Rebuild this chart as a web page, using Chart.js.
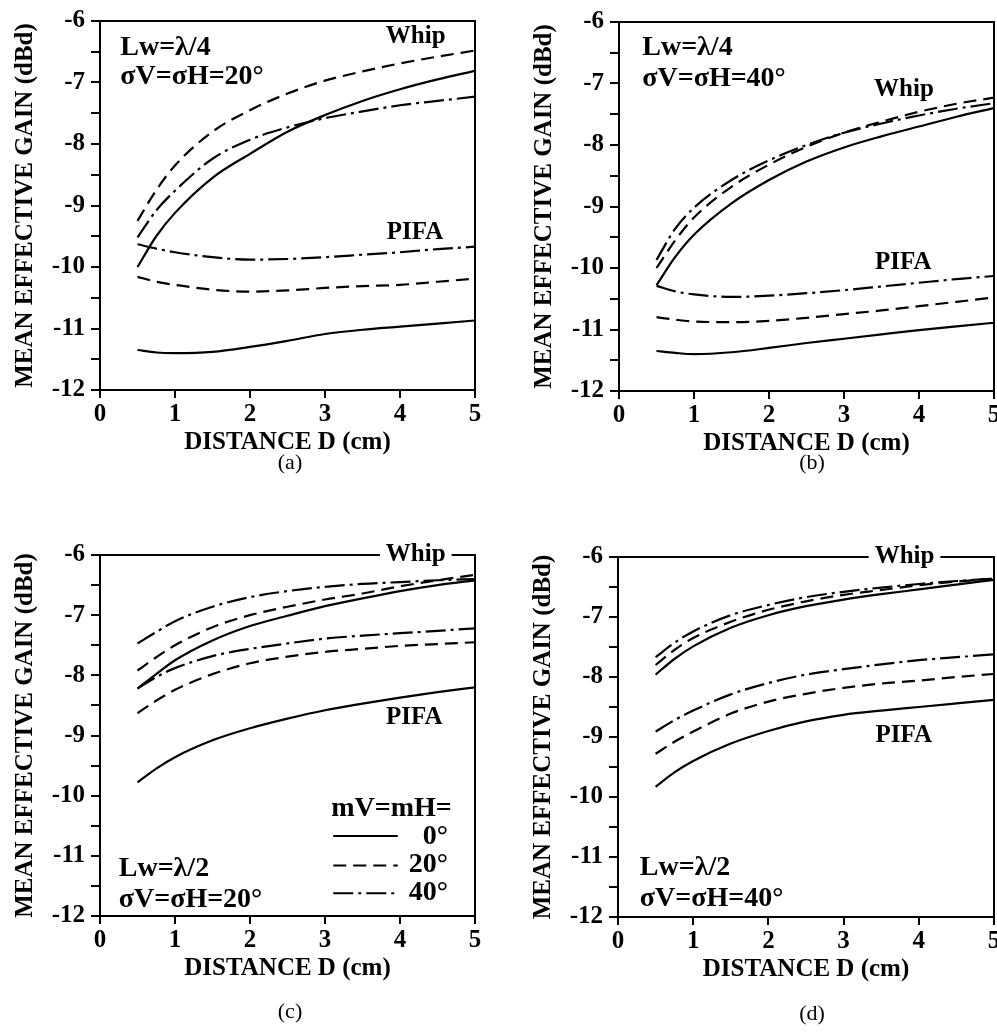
<!DOCTYPE html>
<html>
<head>
<meta charset="utf-8">
<script src="https://cdn.jsdelivr.net/npm/chart.js@4.4.1/dist/chart.umd.min.js"></script>
<style>
  html, body { margin:0; padding:0; background:#fff; width:997px; height:1034px; overflow:hidden; position:relative; }
  .panel { position:absolute; width:497px; height:480px; }
  .cap { position:absolute; font:22px "Liberation Serif", serif; color:#000; transform:translate(-50%,-50%); }
</style>
</head>
<body>
<div class="panel" style="left:0px;top:0px"><canvas id="chartA" width="497" height="480"></canvas></div>
<div class="panel" style="left:519px;top:1px"><canvas id="chartB" width="497" height="480"></canvas></div>
<div class="panel" style="left:0px;top:534px"><canvas id="chartC" width="497" height="480"></canvas></div>
<div class="panel" style="left:518px;top:536px"><canvas id="chartD" width="497" height="480"></canvas></div>
<div class="cap" style="left:290px;top:462px">(a)</div>
<div class="cap" style="left:812px;top:462px">(b)</div>
<div class="cap" style="left:290px;top:1011px">(c)</div>
<div class="cap" style="left:812px;top:1013px">(d)</div>
<script>
// ==========================
// DATA
// ==========================
const distance = [0.5, 0.75, 1, 1.5, 2, 2.5, 3, 3.5, 4, 4.5, 5];
const xTickValues = [0, 1, 2, 3, 4, 5];
const yTickValues = [-12, -11, -10, -9, -8, -7, -6];
const angles = ["0°", "20°", "40°"];

// (a) Lw=λ/4, σV=σH=20°
const aWhip0  = [-10.0, -9.5, -9.12, -8.55, -8.16, -7.8, -7.53, -7.3, -7.11, -6.95, -6.81];
const aWhip20 = [-9.25, -8.75, -8.35, -7.8, -7.45, -7.18, -6.97, -6.82, -6.69, -6.58, -6.48];
const aWhip40 = [-9.52, -9.08, -8.76, -8.24, -7.93, -7.73, -7.58, -7.47, -7.37, -7.3, -7.23];
const aPifa0  = [-11.35, -11.39, -11.4, -11.38, -11.3, -11.2, -11.09, -11.02, -10.97, -10.92, -10.87];
const aPifa20 = [-10.16, -10.24, -10.29, -10.37, -10.4, -10.38, -10.34, -10.31, -10.29, -10.24, -10.19];
const aPifa40 = [-9.63, -9.7, -9.76, -9.84, -9.88, -9.87, -9.84, -9.8, -9.76, -9.71, -9.67];

// (b) Lw=λ/4, σV=σH=40°
const bWhip0  = [-10.28, -9.82, -9.46, -8.95, -8.57, -8.27, -8.04, -7.86, -7.7, -7.54, -7.4];
const bWhip20 = [-10.0, -9.55, -9.18, -8.68, -8.32, -8.03, -7.8, -7.62, -7.46, -7.33, -7.23];
const bWhip40 = [-9.87, -9.36, -9.02, -8.57, -8.25, -8.0, -7.8, -7.65, -7.52, -7.41, -7.32];
const bPifa0  = [-11.35, -11.38, -11.4, -11.37, -11.3, -11.22, -11.15, -11.08, -11.01, -10.95, -10.89];
const bPifa20 = [-10.8, -10.84, -10.87, -10.88, -10.86, -10.81, -10.75, -10.69, -10.62, -10.55, -10.48];
const bPifa40 = [-10.29, -10.38, -10.43, -10.47, -10.45, -10.41, -10.36, -10.3, -10.24, -10.18, -10.13];

// (c) Lw=λ/2, σV=σH=20°
const cWhip0  = [-8.22, -7.98, -7.75, -7.42, -7.18, -7.01, -6.85, -6.72, -6.6, -6.5, -6.42];
const cWhip20 = [-7.92, -7.7, -7.5, -7.2, -7.0, -6.86, -6.74, -6.64, -6.52, -6.42, -6.33];
const cWhip40 = [-7.47, -7.28, -7.1, -6.86, -6.7, -6.6, -6.53, -6.48, -6.45, -6.42, -6.4];
const cPifa0  = [-9.78, -9.55, -9.36, -9.08, -8.88, -8.72, -8.58, -8.47, -8.37, -8.28, -8.2];
const cPifa20 = [-8.63, -8.42, -8.24, -7.98, -7.8, -7.69, -7.61, -7.56, -7.51, -7.48, -7.45];
const cPifa40 = [-8.22, -8.03, -7.88, -7.68, -7.56, -7.47, -7.39, -7.34, -7.3, -7.26, -7.22];

// (d) Lw=λ/2, σV=σH=40°
const dWhip0  = [-7.96, -7.7, -7.49, -7.18, -6.97, -6.82, -6.71, -6.62, -6.54, -6.46, -6.38];
const dWhip20 = [-7.8, -7.55, -7.35, -7.08, -6.88, -6.74, -6.63, -6.55, -6.47, -6.41, -6.36];
const dWhip40 = [-7.67, -7.43, -7.24, -6.97, -6.8, -6.67, -6.58, -6.51, -6.45, -6.4, -6.36];
const dPifa0  = [-9.83, -9.59, -9.4, -9.11, -8.9, -8.74, -8.63, -8.56, -8.5, -8.44, -8.38];
const dPifa20 = [-9.28, -9.08, -8.91, -8.61, -8.41, -8.28, -8.18, -8.11, -8.06, -8.0, -7.95];
const dPifa40 = [-8.91, -8.72, -8.56, -8.29, -8.1, -7.96, -7.87, -7.79, -7.72, -7.67, -7.62];

// ==========================
// STYLE
// ==========================
const FONT = '"Liberation Serif", "Times New Roman", serif';
const DASH = [[], [13, 7], [20, 5, 3, 5]];   // 0°, 20°, 40°
Chart.defaults.font.family = FONT;
Chart.defaults.color = "#000";

function series(vals, k) {
  return {
    data: distance.map((d, i) => ({ x: d, y: vals[i] })),
    borderColor: "#000",
    borderWidth: 2.2,
    borderDash: DASH[k],
    pointRadius: 0,
    fill: false,
    cubicInterpolationMode: "monotone"
  };
}

// box frame, text notes and the (c) legend
const framePlugin = {
  id: "frame",
  afterDraw(chart, args, opts) {
    const { ctx, chartArea: a } = chart;
    const sx = chart.scales.x, sy = chart.scales.y;
    ctx.save();
    ctx.strokeStyle = "#000";
    ctx.lineWidth = 2;
    ctx.setLineDash([]);
    ctx.strokeRect(a.left, a.top, a.right - a.left, a.bottom - a.top);

    (opts.notes || []).forEach(n => {
      ctx.font = `bold ${n.size || 28}px ${FONT}`;
      ctx.textAlign = n.align || "left";
      ctx.textBaseline = n.knock ? "middle" : "alphabetic";
      const px = sx.getPixelForValue(n.x), py = sy.getPixelForValue(n.y);
      if (n.knock) {
        const w = ctx.measureText(n.text).width;
        ctx.fillStyle = "#fff";
        ctx.fillRect(px - w / 2 - 6, py - 4, w + 12, 8);
      }
      ctx.fillStyle = "#000";
      ctx.fillText(n.text, px, py);
    });

    const lg = opts.legend;
    if (lg) {
      ctx.font = `bold 28px ${FONT}`;
      ctx.textAlign = "right";
      ctx.textBaseline = "alphabetic";
      ctx.fillText(lg.title, sx.getPixelForValue(lg.titleX), sy.getPixelForValue(lg.titleY));
      angles.forEach((t, i) => {
        const ly = sy.getPixelForValue(lg.lineY[i]);
        ctx.setLineDash(DASH[i]);
        ctx.beginPath();
        ctx.moveTo(sx.getPixelForValue(lg.x0), ly);
        ctx.lineTo(sx.getPixelForValue(lg.x1), ly);
        ctx.stroke();
        ctx.setLineDash([]);
        ctx.fillText(t, sx.getPixelForValue(lg.textX), sy.getPixelForValue(lg.textY[i]));
      });
    }
    ctx.restore();
  }
};

function makePanel(id, sets, pad, notes, legend) {
  const tickFont = { size: 25, weight: "bold" };
  return new Chart(document.getElementById(id), {
    type: "line",
    data: { datasets: sets.map((v, i) => series(v, i % 3)) },
    options: {
      responsive: false,
      animation: false,
      devicePixelRatio: 1,
      layout: { padding: pad },
      plugins: {
        legend: { display: false },
        tooltip: { enabled: false },
        frame: { notes: notes, legend: legend }
      },
      scales: {
        x: {
          type: "linear", min: 0, max: 5,
          afterBuildTicks: s => { s.ticks = xTickValues.map(v => ({ value: v })); },
          afterFit: s => { s.height = 68; },
          ticks: { font: tickFont, padding: 2, autoSkip: false, maxRotation: 0 },
          grid: { drawOnChartArea: false, tickLength: 8, color: "#000", lineWidth: 2 },
          border: { display: true, color: "#000", width: 2 },
          title: { display: true, text: "DISTANCE D (cm)", font: { size: 25, weight: "bold" }, padding: { top: 0, bottom: 0 } }
        },
        y: {
          type: "linear", min: -12, max: -6,
          ticks: {
            stepSize: 0.5, font: tickFont, padding: 6, autoSkip: false,
            callback: v => (yTickValues.includes(v) ? String(v) : "")
          },
          afterFit: s => { s.width = 100; },
          grid: { drawOnChartArea: false, tickLength: 9, color: "#000", lineWidth: 2 },
          border: { display: true, color: "#000", width: 2 },
          title: { display: true, text: "MEAN EFFECTIVE GAIN (dBd)", font: { size: 25, weight: "bold" }, padding: { top: 11, bottom: 0 } }
        }
      }
    },
    plugins: [framePlugin]
  });
}

// ==========================
// PANELS
// ==========================
makePanel("chartA",
  [aWhip0, aWhip20, aWhip40, aPifa0, aPifa20, aPifa40],
  { left: 0, top: 16, right: 22, bottom: 22 },
  [
    { text: "Lw=λ/4", x: 0.27, y: -6.55 },
    { text: "σV=σH=20°", x: 0.27, y: -7.03 },
    { text: "Whip", x: 4.21, y: -6.35, align: "center", size: 25 },
    { text: "PIFA", x: 4.2, y: -9.55, align: "center", size: 25 }
  ]);

makePanel("chartB",
  [bWhip0, bWhip20, bWhip40, bPifa0, bPifa20, bPifa40],
  { left: 0, top: 16, right: 22, bottom: 22 },
  [
    { text: "Lw=λ/4", x: 0.31, y: -6.53 },
    { text: "σV=σH=40°", x: 0.31, y: -7.04 },
    { text: "Whip", x: 3.8, y: -7.2, align: "center", size: 25 },
    { text: "PIFA", x: 3.79, y: -10.01, align: "center", size: 25 }
  ]);

makePanel("chartC",
  [cWhip0, cWhip20, cWhip40, cPifa0, cPifa20, cPifa40],
  { left: 0, top: 16, right: 22, bottom: 30 },
  [
    { text: "Whip", x: 4.21, y: -6, align: "center", size: 25, knock: true },
    { text: "PIFA", x: 4.19, y: -8.81, align: "center", size: 25 },
    { text: "Lw=λ/2", x: 0.25, y: -11.33 },
    { text: "σV=σH=20°", x: 0.25, y: -11.85 }
  ],
  {
    title: "mV=mH=", titleX: 4.69, titleY: -10.34,
    x0: 3.11, x1: 3.97, lineY: [-10.67, -11.16, -11.62],
    textX: 4.64, textY: [-10.81, -11.27, -11.74]
  });

makePanel("chartD",
  [dWhip0, dWhip20, dWhip40, dPifa0, dPifa20, dPifa40],
  { left: 0, top: 16, right: 21, bottom: 31 },
  [
    { text: "Whip", x: 3.81, y: -6, align: "center", size: 25, knock: true },
    { text: "PIFA", x: 3.8, y: -9.08, align: "center", size: 25 },
    { text: "Lw=λ/2", x: 0.29, y: -11.3 },
    { text: "σV=σH=40°", x: 0.29, y: -11.82 }
  ]);
</script>
</body>
</html>
